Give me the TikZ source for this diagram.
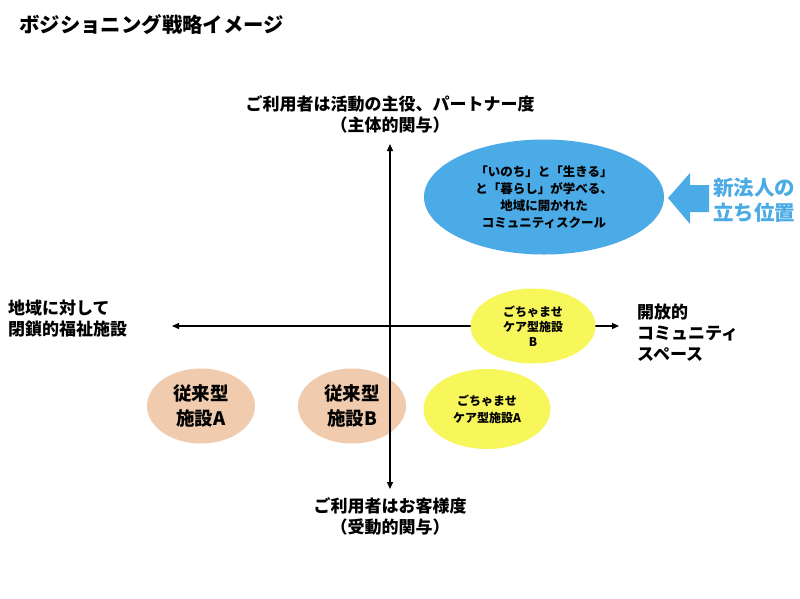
\documentclass[tikz,border=0pt]{standalone}
\usepackage{fontspec}
\setmainfont{Noto Sans CJK JP}
\usetikzlibrary{shapes.geometric,arrows.meta}
\definecolor{skyblue}{HTML}{4BABE6}
\definecolor{lemon}{HTML}{F7F75C}
\definecolor{salmon}{HTML}{F0CBAE}
\tikzset{
  axis/.style={line width=1.3pt,-{Triangle[length=7pt,width=6pt]}},
  blob/.style={ellipse,inner sep=0pt,align=center,font=\bfseries},
  lbl/.style={font=\bfseries\fontsize{17}{21}\selectfont,inner sep=0pt}
}
\begin{document}
\begin{tikzpicture}[x=1pt,y=-1pt]
\useasboundingbox[fill=white] (0,0) rectangle (800,598);
% title
\node[font=\bfseries\fontsize{20.4}{24}\selectfont,anchor=west,inner sep=0] (title) at (19,25) {ボジショニング戦略イメージ};
% axis end points
\coordinate (c) at (390,326);
\coordinate (top) at (390,144);
\coordinate (bot) at (390,489);
\coordinate (left) at (172,326);
\coordinate (right) at (619,326);
\draw[axis] (c) -- (left);
\draw[axis] (c) -- (right);
% yellow ellipses
\node[blob,fill=lemon,minimum width=125pt,minimum height=75pt,font=\bfseries\fontsize{12}{15}\selectfont] (yb) at (533,326) {ごちゃませ\\ケア型施設\\B};
\node[blob,fill=lemon,minimum width=127pt,minimum height=80pt,font=\bfseries\fontsize{12}{17}\selectfont] (ya) at (487,409) {ごちゃませ\\ケア型施設A};
% salmon ellipses
\node[blob,fill=salmon,minimum width=108pt,minimum height=75pt,font=\bfseries\fontsize{18.5}{25}\selectfont] (sa) at (201,406) {従来型\\施設A};
\node[blob,fill=salmon,minimum width=108pt,minimum height=75pt,font=\bfseries\fontsize{18.5}{25}\selectfont] (sb) at (352,406) {従来型\\施設B};
\draw[axis] (c) -- (top);
\draw[axis] (c) -- (bot);
% big blue ellipse
\node[blob,fill=skyblue,minimum width=240pt,minimum height=115pt,font=\bfseries\fontsize{12.5}{17}\selectfont] (big) at (544,197) {「いのち」と「生きる」\\と「暮らし」が学べる、\\地域に開かれた\\コミュニティスクール};
% blue arrow
\fill[skyblue] (668,198) -- (690,173) -- (690,185) -- (709,185) -- (709,212) -- (690,212) -- (690,224) -- cycle;
\node[lbl,anchor=west,align=left,text=skyblue,font=\bfseries\fontsize{20.5}{25}\selectfont] (pos) at (713,200) {新法人の\\立ち位置};
% axis labels
\node[lbl,align=center,anchor=south] (tl) at (390,133) {ご利用者は活動の主役、パートナー度\\（主体的関与）};
\node[lbl,align=center,anchor=north] (bl) at (390,497) {ご利用者はお客様度\\（受動的関与）};
\node[lbl,align=left,anchor=west] (ll) at (8,319) {地域に対して\\閉鎖的福祉施設};
\node[lbl,align=left,anchor=west] (rl) at (637,333) {開放的\\コミュニティ\\スペース};
\end{tikzpicture}
\end{document}
